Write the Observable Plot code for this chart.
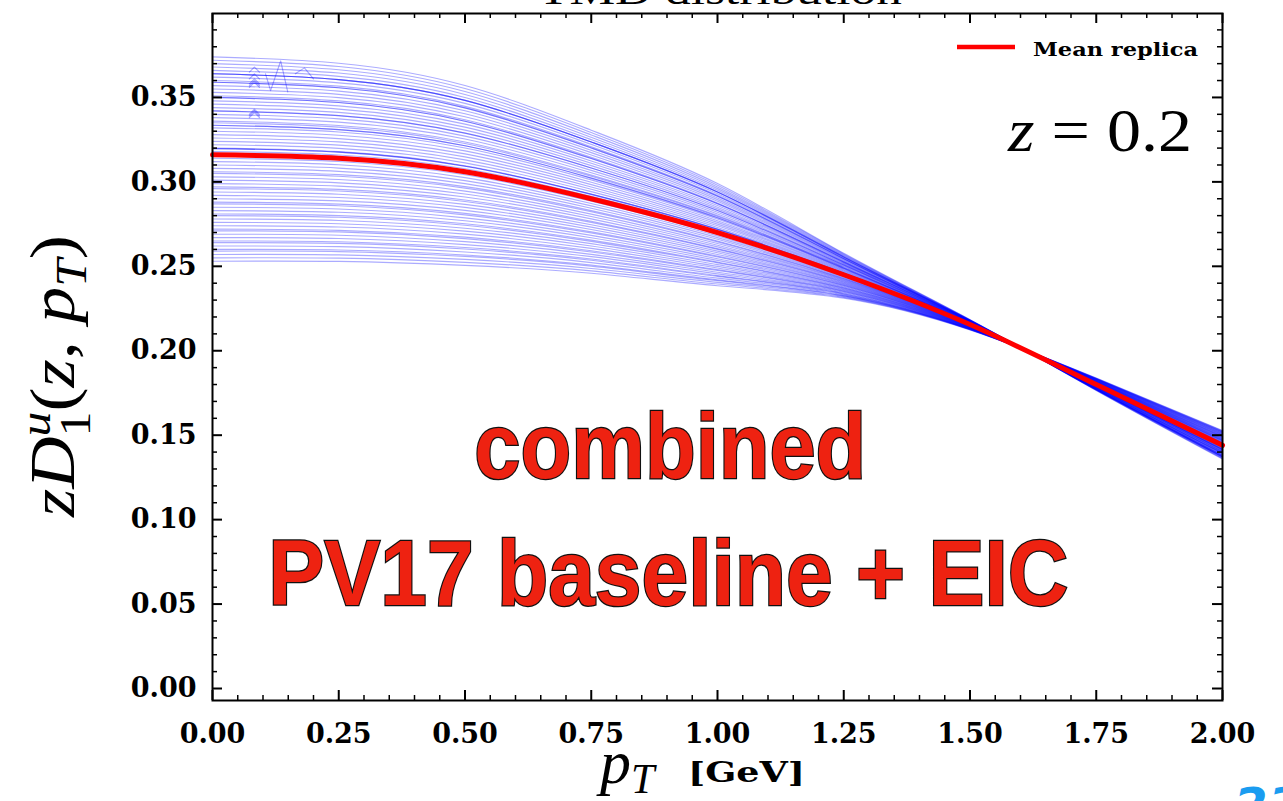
<!DOCTYPE html>
<html>
<head>
<meta charset="utf-8">
<script src="https://cdn.jsdelivr.net/npm/d3@7"></script>
<script src="https://cdn.jsdelivr.net/npm/@observablehq/plot@0.6"></script>
<style>
  html, body { margin: 0; padding: 0; background: #fff; overflow: hidden; }
  #chart { position: relative; width: 1283px; height: 801px; }
</style>
</head>
<body>
<div id="chart"></div>
<script>
// Transverse momentum grid (GeV) on which the fragmentation function is tabulated
const pTGrid = [0, 0.25, 0.5, 0.75, 1.0, 1.25, 1.5, 1.75, 2.0];

// Mean replica of z D1^u(z, pT) at z = 0.2
const meanReplica = [0.316, 0.314, 0.306, 0.290, 0.270, 0.245, 0.2155, 0.180, 0.144];

// How far each replica sits from the mean, relative to its offset at pT = 0
const spreadProfile = [1.0, 0.97, 0.88, 0.70, 0.50, 0.22, 0.05, -0.06, -0.14];

// Value of every replica at pT = 0
const replicaAtZero = [
  0.374, 0.372, 0.370, 0.368, 0.366, 0.364, 0.364, 0.364, 0.362, 0.360,
  0.359, 0.359, 0.357, 0.355, 0.353, 0.351, 0.350, 0.350, 0.348, 0.346,
  0.344, 0.342, 0.342, 0.340, 0.338, 0.336, 0.335, 0.3335, 0.3335, 0.332,
  0.330, 0.328, 0.326, 0.324, 0.322, 0.320, 0.3197, 0.3197, 0.318, 0.317,
  0.314, 0.312, 0.310, 0.308, 0.306, 0.305, 0.303, 0.301, 0.299, 0.297,
  0.296, 0.294, 0.292, 0.290, 0.288, 0.287, 0.285, 0.283, 0.281, 0.280,
  0.278, 0.276, 0.274, 0.272, 0.271, 0.269, 0.267, 0.265, 0.264, 0.262,
  0.260, 0.259, 0.257, 0.255, 0.253
];

// Small numerical glitches in a few replicas at low pT: [pT, value] polylines
const glitches = [
  [[0.073, 0.365], [0.083, 0.368], [0.093, 0.365]],
  [[0.073, 0.361], [0.083, 0.364], [0.093, 0.361]],
  [[0.073, 0.358], [0.083, 0.361], [0.093, 0.358]],
  [[0.073, 0.357], [0.083, 0.360], [0.093, 0.357]],
  [[0.073, 0.356], [0.083, 0.359], [0.093, 0.356]],
  [[0.073, 0.340], [0.083, 0.343], [0.093, 0.340]],
  [[0.073, 0.339], [0.083, 0.342], [0.093, 0.339]],
  [[0.073, 0.338], [0.083, 0.341], [0.093, 0.338]],
  [[0.105, 0.364], [0.115, 0.354], [0.135, 0.3716], [0.149, 0.3533]],
  [[0.164, 0.364], [0.182, 0.3675], [0.200, 0.361]]
];

// Axis ticks
const xMajor = [0, 0.25, 0.5, 0.75, 1.0, 1.25, 1.5, 1.75, 2.0];
const xMinor = d3.range(0, 40).map(i => i * 0.05).filter(v => Math.abs(v / 0.25 - Math.round(v / 0.25)) > 1e-6);
const yMajor = [0, 0.05, 0.10, 0.15, 0.20, 0.25, 0.30, 0.35];
const yMinor = d3.range(0, 40).map(i => i * 0.01).filter(v => Math.abs(v / 0.05 - Math.round(v / 0.05)) > 1e-6);

// Tables for the line marks
const mean0 = meanReplica[0];
const replicaRows = replicaAtZero.flatMap((v0, r) =>
  pTGrid.map((pT, i) => ({replica: r, pT, value: meanReplica[i] + (v0 - mean0) * spreadProfile[i]}))
);
const meanRows = pTGrid.map((pT, i) => ({pT, value: meanReplica[i]}));
const glitchRows = glitches.flatMap((g, k) => g.map(([pT, value]) => ({k, pT, value})));

const W = 1283, H = 801;
const M = {top: 13, right: 61, bottom: 101, left: 212};
const frameW = W - M.left - M.right;
const frameH = H - M.top - M.bottom;

const tickFont = {fontFamily: "DejaVu Serif", fontWeight: "bold", fontSize: 27};
const replicaStyle = {stroke: "#0000ff", strokeOpacity: 0.33, strokeWidth: 1.15};

const chart = Plot.plot({
  width: W,
  height: H,
  marginTop: M.top,
  marginRight: M.right,
  marginBottom: M.bottom,
  marginLeft: M.left,
  style: {background: "white", color: "black", overflow: "visible"},
  x: {domain: [0, 2]},
  y: {domain: [-0.0071, 0.3997]},
  marks: [
    Plot.line(replicaRows, {x: "pT", y: "value", z: "replica", ...replicaStyle, curve: "natural"}),
    Plot.line(glitchRows, {x: "pT", y: "value", z: "k", ...replicaStyle}),
    Plot.line(meanRows, {x: "pT", y: "value", stroke: "#ff0000", strokeWidth: 5, curve: "natural"}),
    Plot.frame({stroke: "black", strokeWidth: 2}),
    // inward ticks on all four sides
    Plot.tickX(xMajor, {insetTop: frameH - 10, stroke: "black", strokeWidth: 2}),
    Plot.tickX(xMajor, {insetBottom: frameH - 10, stroke: "black", strokeWidth: 2}),
    Plot.tickX(xMinor, {insetTop: frameH - 5, stroke: "black", strokeWidth: 1.5}),
    Plot.tickX(xMinor, {insetBottom: frameH - 5, stroke: "black", strokeWidth: 1.5}),
    Plot.tickY(yMajor, {insetRight: frameW - 10, stroke: "black", strokeWidth: 2}),
    Plot.tickY(yMajor, {insetLeft: frameW - 10, stroke: "black", strokeWidth: 2}),
    Plot.tickY(yMinor, {insetRight: frameW - 5, stroke: "black", strokeWidth: 1.5}),
    Plot.tickY(yMinor, {insetLeft: frameW - 5, stroke: "black", strokeWidth: 1.5}),
    Plot.axisX(xMajor, {tickSize: 0, tickPadding: 23, tickFormat: d => d.toFixed(2), label: null, ...tickFont}),
    Plot.axisY(yMajor, {tickSize: 0, tickPadding: 16, tickFormat: d => d.toFixed(2), label: null, ...tickFont})
  ]
});

document.getElementById("chart").appendChild(chart);

const svg = d3.select(chart);
const xs = chart.scale("x"), ys = chart.scale("y");

// Title (runs off the top edge)
svg.append("text")
  .attr("x", 720).attr("y", 4)
  .attr("text-anchor", "middle")
  .attr("font-family", "Liberation Serif").attr("font-size", 38)
  .attr("textLength", 364).attr("lengthAdjust", "spacingAndGlyphs")
  .text("TMD distribution");

// Legend
svg.append("line")
  .attr("x1", 957).attr("x2", 1015).attr("y1", 47).attr("y2", 47)
  .attr("stroke", "#ff0000").attr("stroke-width", 4.5);
svg.append("text")
  .attr("x", 1033).attr("y", 56)
  .attr("text-anchor", "start")
  .attr("font-family", "DejaVu Serif").attr("font-size", 19).attr("font-weight", 600)
  .attr("textLength", 165).attr("lengthAdjust", "spacingAndGlyphs")
  .text("Mean replica");

// z = 0.2
const zt = svg.append("text")
  .attr("x", 1008).attr("y", 151)
  .attr("text-anchor", "start")
  .attr("font-family", "Liberation Serif").attr("font-size", 62)
  .attr("textLength", 184).attr("lengthAdjust", "spacingAndGlyphs");
zt.append("tspan").attr("font-style", "italic").text("z");
zt.append("tspan").text(" = 0.2");

// Overlay labels
function bigLabel(str, cx, baseline, len) {
  svg.append("text")
    .attr("x", cx).attr("y", baseline)
    .attr("text-anchor", "middle")
    .attr("font-family", "'Liberation Sans Narrow', 'Liberation Sans', Roboto, sans-serif")
    .attr("font-weight", "bold").attr("font-size", 92)
    .attr("fill", "#ee2211").attr("stroke", "#111").attr("stroke-width", 2.5)
    .attr("paint-order", "stroke")
    .attr("textLength", len).attr("lengthAdjust", "spacingAndGlyphs")
    .text(str);
}
bigLabel("combined", xs.apply(0.9075), ys.apply(0.1246), 392);
bigLabel("PV17 baseline + EIC", xs.apply(0.9036), ys.apply(0.0492), 800);

// y-axis title: z D_1^u(z, p_T)
const yl = svg.append("text")
  .attr("transform", "translate(74, 517) rotate(-90)")
  .attr("text-anchor", "start")
  .attr("font-family", "Liberation Serif").attr("font-size", 64)
  .attr("textLength", 282).attr("lengthAdjust", "spacingAndGlyphs");
yl.append("tspan").attr("font-style", "italic").text("zD");
yl.append("tspan").attr("font-style", "italic").attr("font-size", 44).attr("dy", -24).text("u");
yl.append("tspan").attr("font-size", 44).attr("dx", -22).attr("dy", 40).text("1");
yl.append("tspan").attr("dy", -16).text("(");
yl.append("tspan").attr("font-style", "italic").text("z");
yl.append("tspan").text(", ");
yl.append("tspan").attr("font-style", "italic").text("p");
yl.append("tspan").attr("font-style", "italic").attr("font-size", 44).attr("dy", 12).text("T");
yl.append("tspan").attr("dy", -12).text(")");

// x-axis title: p_T [GeV]
const xl = svg.append("text")
  .attr("x", 600).attr("y", 783)
  .attr("text-anchor", "start")
  .attr("font-family", "Liberation Serif").attr("font-size", 62);
xl.append("tspan").attr("font-style", "italic").text("p");
xl.append("tspan").attr("font-style", "italic").attr("font-size", 42).attr("dy", 10).text("T");
svg.append("text")
  .attr("x", 688).attr("y", 782)
  .attr("text-anchor", "start")
  .attr("font-family", "DejaVu Serif").attr("font-weight", "bold").attr("font-size", 27)
  .attr("textLength", 117).attr("lengthAdjust", "spacingAndGlyphs")
  .text("[GeV]");

// page number in the corner
svg.append("text")
  .attr("x", 1234).attr("y", 822)
  .attr("text-anchor", "start")
  .attr("font-family", "DejaVu Sans").attr("font-weight", "bold").attr("font-style", "italic")
  .attr("font-size", 48).attr("fill", "#1a9cf0")
  .text("23");
</script>
</body>
</html>
